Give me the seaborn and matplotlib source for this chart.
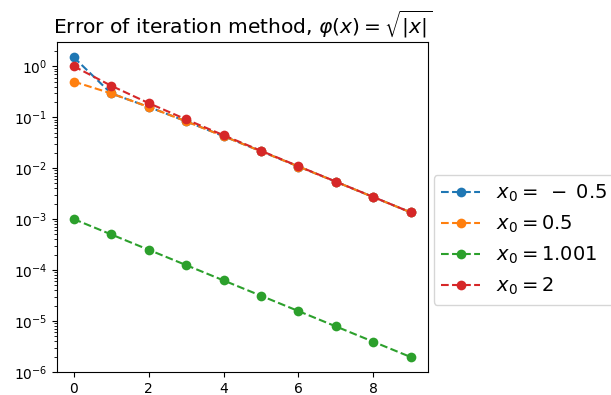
import numpy as np
import pandas as pd
import matplotlib
matplotlib.use("Agg")
import matplotlib.pyplot as plt
import seaborn as sns

# iteration number
steps = [0, 1, 2, 3, 4, 5, 6, 7, 8, 9]

# error |x_n - 1| for each starting point
err_m05 = [1.5, 0.29289, 0.15910, 0.08300, 0.04240, 0.02143, 0.01076, 0.00540, 0.00270, 0.00135]
err_05 = [0.5, 0.29289, 0.15910, 0.08300, 0.04240, 0.02143, 0.01076, 0.00540, 0.00270, 0.00135]
err_1001 = [1e-3, 5e-4, 2.5e-4, 1.25e-4, 6.25e-5, 3.125e-5, 1.5625e-5, 7.8125e-6, 3.906e-6, 1.953e-6]
err_2 = [1.0, 0.41421, 0.18921, 0.09051, 0.04427, 0.02190, 0.01089, 0.00543, 0.00271, 0.00135]

labels = [r'$x_0 = \;-\;0.5$', r'$x_0 = 0.5$', r'$x_0 = 1.001$', r'$x_0 = 2$']
series = [err_m05, err_05, err_1001, err_2]
colors = sns.color_palette("tab10", 4)

fig, ax = plt.subplots(figsize=(6.11, 3.95), dpi=100)
fig.subplots_adjust(left=0.093, right=0.70, top=0.893, bottom=0.058)

for lab, err, c in zip(labels, series, colors):
    sns.lineplot(x=steps, y=err, ax=ax, color=c, marker='o', markersize=7,
                 markeredgewidth=0, linestyle='--', label=lab)

ax.set_yscale('log')
ax.set_title(r'Error of iteration method, $\varphi(x) = \sqrt{|x|}$', fontsize=14.6)
ax.set_xticks([0, 2, 4, 6, 8])
ax.legend(loc='center left', bbox_to_anchor=(1.0, 0.4), fontsize=14,
          borderaxespad=0.3, handlelength=2)

fig.savefig('out.png', dpi=100)
